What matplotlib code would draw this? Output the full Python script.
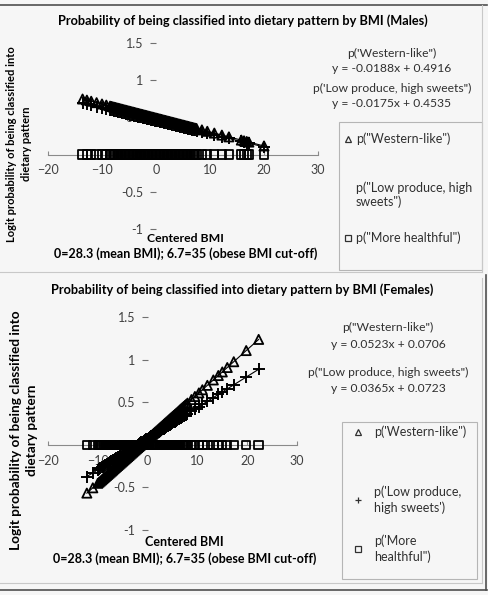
import numpy as np
import matplotlib
matplotlib.use("Agg")
import matplotlib.pyplot as plt
from matplotlib.lines import Line2D
from matplotlib.patches import Rectangle

plt.rcParams["font.family"] = ["Lato", "DejaVu Sans"]

W, H = 489, 595

# centered BMI of the plotted individuals
male_bmi = [-13.6, -12.8, -12.0, -11.0, -10.0, -9.2, -8.5, -8.0, -7.5, -7.0, -6.5, -6.0,
            -5.5, -5.0, -4.5, -4.0, -3.5, -3.0, -2.5, -2.0, -1.5, -1.0, -0.5, 0.0,
            0.5, 1.0, 1.5, 2.0, 2.5, 3.0, 3.5, 4.0, 4.5, 5.0, 5.5, 6.0, 6.5, 7.0, 7.5,
            8.5, 9.5, 10.8, 12.2, 13.5, 15.8, 16.3, 16.8, 17.2, 20.0]
male_western = [0.747, 0.732, 0.717, 0.698, 0.680, 0.665, 0.651, 0.642, 0.633, 0.623, 0.614, 0.604,
                0.595, 0.586, 0.576, 0.567, 0.557, 0.548, 0.539, 0.529, 0.520, 0.510, 0.501, 0.492,
                0.482, 0.473, 0.463, 0.454, 0.445, 0.435, 0.426, 0.416, 0.407, 0.398, 0.388, 0.379,
                0.369, 0.360, 0.351,
                0.332, 0.313, 0.289, 0.262, 0.238, 0.195, 0.185, 0.176, 0.168, 0.116]
male_lowprod = [0.692, 0.678, 0.664, 0.646, 0.629, 0.615, 0.602, 0.594, 0.585, 0.576, 0.567, 0.559,
                0.550, 0.541, 0.532, 0.524, 0.515, 0.506, 0.497, 0.489, 0.480, 0.471, 0.462, 0.454,
                0.445, 0.436, 0.427, 0.419, 0.410, 0.401, 0.392, 0.384, 0.375, 0.366, 0.357, 0.349,
                0.340, 0.331, 0.322,
                0.305, 0.287, 0.265, 0.240, 0.217, 0.177, 0.168, 0.160, 0.153, 0.104]
# the crowded middle of the male cloud
male_bmi_mid = [-8.25, -7.75, -7.25, -6.75, -6.25, -5.75, -5.25, -4.75, -4.25, -3.75, -3.25,
                -2.75, -2.25, -1.75, -1.25, -0.75, -0.25, 0.25, 0.75, 1.25, 1.75, 2.25,
                2.75, 3.25, 3.75, 4.25, 4.75, 5.25, 5.75, 6.25, 6.75, 7.25]
male_western_mid = [0.647, 0.637, 0.628, 0.619, 0.609, 0.600, 0.590, 0.581, 0.572, 0.562, 0.553,
                    0.543, 0.534, 0.525, 0.515, 0.506, 0.496, 0.487, 0.478, 0.468, 0.459, 0.449,
                    0.440, 0.431, 0.421, 0.412, 0.402, 0.393, 0.384, 0.374, 0.365, 0.355]
male_lowprod_mid = [0.598, 0.589, 0.580, 0.572, 0.563, 0.554, 0.545, 0.537, 0.528, 0.519, 0.510,
                    0.502, 0.493, 0.484, 0.475, 0.467, 0.458, 0.449, 0.440, 0.432, 0.423, 0.414,
                    0.405, 0.397, 0.388, 0.379, 0.370, 0.362, 0.353, 0.344, 0.335, 0.327]

female_bmi = [-12.2, -11.0, -10.0, -9.5, -9.0, -8.5, -8.0, -7.5, -7.0, -6.5, -6.0, -5.5,
              -5.0, -4.5, -4.0, -3.5, -3.0, -2.5, -2.0, -1.5, -1.0, -0.5, 0.0, 0.5,
              1.0, 1.5, 2.0, 2.5, 3.0, 3.5, 4.0, 4.5, 5.0, 5.5, 6.0, 6.5, 7.0, 7.5, 8.0,
              8.8, 9.5, 10.3, 11.0, 12.0, 13.2, 14.2, 15.0, 16.0, 17.3, 19.8, 22.3]
female_western = [-0.567, -0.505, -0.452, -0.426, -0.400, -0.374, -0.348, -0.322, -0.296, -0.269,
                  -0.243, -0.217, -0.191, -0.165, -0.139, -0.112, -0.086, -0.060, -0.034, -0.008,
                  0.018, 0.044, 0.071, 0.097, 0.123, 0.149, 0.175, 0.201, 0.227, 0.254, 0.280,
                  0.306, 0.332, 0.358, 0.384, 0.411, 0.437, 0.463, 0.489,
                  0.531, 0.567, 0.609, 0.646, 0.698, 0.761, 0.813, 0.855, 0.907, 0.975, 1.106, 1.237]
female_lowprod = [-0.373, -0.329, -0.293, -0.274, -0.256, -0.238, -0.220, -0.201, -0.183, -0.165,
                  -0.147, -0.128, -0.110, -0.092, -0.074, -0.055, -0.037, -0.019, -0.001, 0.018,
                  0.036, 0.054, 0.072, 0.091, 0.109, 0.127, 0.145, 0.164, 0.182, 0.200, 0.218,
                  0.237, 0.255, 0.273, 0.291, 0.310, 0.328, 0.346, 0.364,
                  0.394, 0.419, 0.448, 0.474, 0.510, 0.554, 0.591, 0.620, 0.656, 0.704, 0.795, 0.886]
# the crowded middle of the female cloud
female_bmi_mid = [-9.75, -9.25, -8.75, -8.25, -7.75, -7.25, -6.75, -6.25, -5.75, -5.25, -4.75,
                  -4.25, -3.75, -3.25, -2.75, -2.25, -1.75, -1.25, -0.75, -0.25, 0.25, 0.75,
                  1.25, 1.75, 2.25, 2.75, 3.25, 3.75, 4.25, 4.75, 5.25, 5.75, 6.25, 6.75,
                  7.25, 7.75]
female_western_mid = [-0.439, -0.413, -0.387, -0.361, -0.335, -0.309, -0.282, -0.256, -0.230,
                      -0.204, -0.178, -0.152, -0.126, -0.099, -0.073, -0.047, -0.021, 0.005,
                      0.031, 0.058, 0.084, 0.110, 0.136, 0.162, 0.188, 0.214, 0.241, 0.267,
                      0.293, 0.319, 0.345, 0.371, 0.397, 0.424, 0.450, 0.476]
female_lowprod_mid = [-0.284, -0.265, -0.247, -0.229, -0.211, -0.192, -0.174, -0.156, -0.138,
                      -0.119, -0.101, -0.083, -0.065, -0.046, -0.028, -0.010, 0.008, 0.027,
                      0.045, 0.063, 0.081, 0.100, 0.118, 0.136, 0.154, 0.173, 0.191, 0.209,
                      0.227, 0.246, 0.264, 0.282, 0.300, 0.319, 0.337, 0.355]

x_ticks = [-20, -10, 0, 10, 20, 30]
y_ticks = [-1, -0.5, 0, 0.5, 1, 1.5]
y_tick_labels = ["-1", "-0.5", "0", "0.5", "1", "1.5"]

titles = ["Probability of being classified into dietary pattern by BMI (Males)",
          "Probability of being classified into dietary pattern by BMI (Females)"]
ylabel = "Logit probability of being classified into\ndietary pattern"
xlabel1 = "Centered BMI"
xlabel2 = "0=28.3 (mean BMI); 6.7=35 (obese BMI cut-off)"
eq_male = ["p('Western-like\")", "y = -0.0188x + 0.4916",
           "p('Low produce, high sweets\")", "y = -0.0175x + 0.4535"]
eq_female = ["p(\"Western-like\")", "y = 0.0523x + 0.0706",
             "p(\"Low produce, high sweets\")", "y = 0.0365x + 0.0723"]


def fx(x):
    return x / W


def fy(y):
    return 1 - y / H


def style_axes(ax):
    ax.set_facecolor("none")
    ax.set_xlim(-20, 30)
    ax.set_ylim(-1, 1.5)
    for s in ["top", "right"]:
        ax.spines[s].set_visible(False)
    ax.spines["bottom"].set_position(("data", 0))
    ax.spines["bottom"].set_color("#8a8a8a")
    ax.spines["bottom"].set_linewidth(0.8)
    ax.spines["left"].set_position(("data", 0))
    ax.spines["left"].set_visible(False)
    ax.set_xticks(x_ticks)
    ax.set_yticks(y_ticks)
    ax.set_yticklabels(y_tick_labels)
    ax.tick_params(axis="x", direction="in", length=3, pad=7, labelsize=9,
                   color="#8a8a8a", labelcolor="#404040")
    ax.tick_params(axis="y", direction="out", length=4, pad=5, labelsize=9,
                   color="#707070", labelcolor="#404040")


def plot_panel(ax, bmi, western, lowprod, msize):
    bmi = np.asarray(bmi)
    healthful = np.zeros(len(bmi))  # reference category, logit 0
    ax.scatter(bmi, healthful, marker="s", s=msize ** 2, facecolors="none",
               edgecolors="black", linewidths=1.3, zorder=3)
    ax.scatter(bmi, western, marker="^", s=(msize * 1.1) ** 2, facecolors="none",
               edgecolors="black", linewidths=1.3, zorder=3)
    ax.scatter(bmi, lowprod, marker="+", s=(msize * 1.5) ** 2, color="black",
               linewidths=1.4, zorder=3)
    # excel style linear trendlines
    xs = np.array([bmi.min(), bmi.max()])
    for ys in [western, lowprod]:
        k, b = np.polyfit(bmi, ys, 1)
        ax.plot(xs, k * xs + b, color="black", lw=0.8, zorder=3)


def draw_legend(fig, box, entries, fs=9):
    x0, y0, x1, y1 = box
    fig.add_artist(Rectangle((fx(x0), fy(y1)), fx(x1 - x0), (y1 - y0) / H,
                             transform=fig.transFigure, facecolor="none",
                             edgecolor="#b5b5b5", lw=0.8))
    for marker, mx, tx, ty, label, ls in entries:
        if marker is not None:
            fig.add_artist(Line2D([fx(mx)], [fy(ty)], transform=fig.transFigure,
                                  marker=marker, markersize=5, markerfacecolor="none",
                                  markeredgecolor="#303030", markeredgewidth=0.9,
                                  linestyle="none"))
        fig.text(fx(tx), fy(ty), label, ha="left", va="center", fontsize=fs,
                 color="#303030", linespacing=ls)


fig = plt.figure(figsize=(W / 100, H / 100), dpi=100)
fig.patch.set_facecolor("#f6f6f6")

ax1 = fig.add_axes([fx(48), fy(229), fx(270), 186 / H])
ax2 = fig.add_axes([fx(48), fy(530), fx(249), 213 / H])
style_axes(ax1)
style_axes(ax2)
plot_panel(ax1, male_bmi + male_bmi_mid, male_western + male_western_mid,
           male_lowprod + male_lowprod_mid, 6.0)
plot_panel(ax2, female_bmi + female_bmi_mid, female_western + female_western_mid,
           female_lowprod + female_lowprod_mid, 6.0)

# titles and axis labels
fig.text(fx(243), fy(21), titles[0], ha="center", va="center", fontsize=9.2, fontweight="bold")
fig.text(fx(242), fy(290), titles[1], ha="center", va="center", fontsize=9.2, fontweight="bold")
fig.text(fx(19), fy(144), ylabel, ha="center", va="center", rotation=90,
         fontsize=8.0, fontweight="bold", linespacing=1.55)
fig.text(fx(24), fy(430), ylabel, ha="center", va="center", rotation=90,
         fontsize=9.8, fontweight="bold", linespacing=1.33)
fig.text(fx(185), fy(239), xlabel1, ha="center", va="center", fontsize=8.8, fontweight="bold")
fig.text(fx(186), fy(254), xlabel2, ha="center", va="center", fontsize=9.0, fontweight="bold")
fig.text(fx(184), fy(542), xlabel1, ha="center", va="center", fontsize=9.0, fontweight="bold")
fig.text(fx(185), fy(559), xlabel2, ha="center", va="center", fontsize=9.0, fontweight="bold")

# trendline equations
for txt, yy in zip(eq_male, [53, 68, 88, 103]):
    fig.text(fx(392), fy(yy), txt, ha="center", va="center", fontsize=8.7, color="#303030")
for txt, yy in zip(eq_female, [327, 345, 372, 389]):
    fig.text(fx(388), fy(yy), txt, ha="center", va="center", fontsize=8.7, color="#303030")

# legends
draw_legend(fig, (339, 122, 482, 270), [
    ("^", 348, 356, 139, "p(\"Western-like\")", 1.2),
    (None, 348, 356, 195, "p(\"Low produce, high\nsweets\")", 1.12),
    ("s", 348, 356, 238, "p(\"More healthful\")", 1.2),
])
draw_legend(fig, (342, 422, 477, 579), [
    ("^", 358, 374, 432, "p('Western-like\")", 1.2),
    ("+", 358, 374, 500, "p('Low produce,\nhigh sweets')", 1.35),
    ("s", 358, 374, 549, "p('More\nhealthful\")", 1.35),
])

# panel frames
frame = dict(transform=fig.transFigure, color="#505050", lw=1.2)
fig.add_artist(Line2D([0, fx(487)], [fy(5), fy(5)], **frame))
fig.add_artist(Line2D([0, fx(487)], [fy(590), fy(590)], **frame))
fig.add_artist(Line2D([fx(486), fx(486)], [fy(275), fy(590)], **frame))
light = dict(transform=fig.transFigure, color="#c8c8c8", lw=0.8)
fig.add_artist(Line2D([0, fx(482)], [fy(272), fy(272)], **light))
fig.add_artist(Line2D([fx(482), fx(482)], [fy(5), fy(272)], **light))
fig.add_artist(Line2D([0, fx(482)], [fy(583), fy(583)], **light))
fig.add_artist(Line2D([fx(482), fx(482)], [fy(278), fy(583)], **light))

fig.savefig("out.png", dpi=100, facecolor=fig.get_facecolor())
